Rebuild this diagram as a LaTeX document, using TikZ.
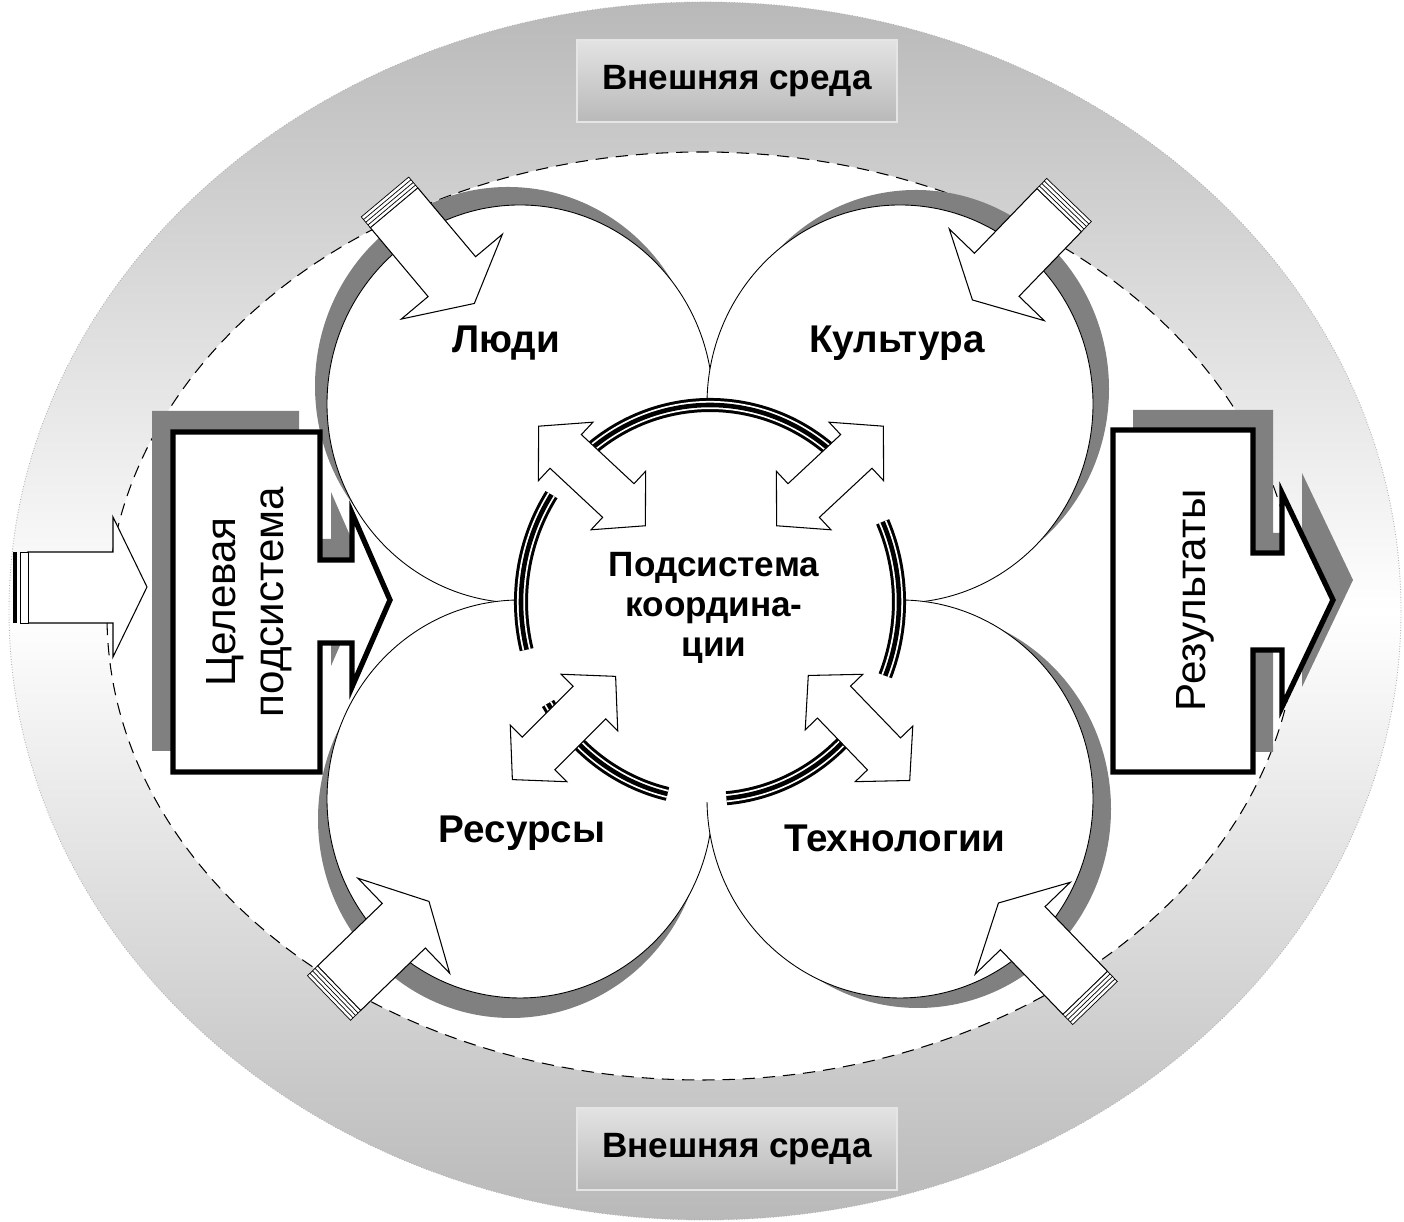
\documentclass[tikz,border=0pt]{standalone}
\usepackage{fontspec}
\setmainfont{Liberation Sans}

\begin{document}
\begin{tikzpicture}[x=0.02cm,y=0.02cm,
  envbox/.style={draw=gray!20,line width=0.8pt,top color=gray!22,bottom color=gray!55,minimum width=6.4cm,minimum height=1.64cm,inner sep=0pt,font=\bfseries\fontsize{20}{22}\selectfont},
  ball/.style={draw,line width=0.5pt,fill=white},
  halo/.style={fill=gray},
  blockarr/.style={draw,line width=0.6pt,fill=white},
  capbar/.style={draw,line width=0.4pt,fill=white},
  sysbox/.style={draw,line width=3pt,fill=white},
  sysshade/.style={fill=gray},
  lbl/.style={font=\bfseries\fontsize{22}{26}\selectfont},
  sidetxt/.style={rotate=90,align=center,font=\fontsize{24}{27}\selectfont}]
\useasboundingbox (0,0) rectangle (1404,1222);
\shade[top color=gray!55,bottom color=gray!55,middle color=white] (705,611) ellipse [x radius=696,y radius=609];
\draw[gray!60,densely dotted,line width=0.5pt] (705,611) ellipse [x radius=696,y radius=609];
\node[envbox] (envtop) at (737,1141) {Внешняя среда};
\node[envbox] (envbot) at (737,73) {Внешняя среда};
\draw[fill=white,line width=0.6pt,dash pattern=on 7pt off 4.5pt] (702,606) ellipse [x radius=595,y radius=464];
\foreach \x/\y/\dx/\dy in {520/818/-12/18,900/818/16/15,520/423/-9/-20,900/423/18/-10}
  \fill[halo,shift={(\dx,\dy)}] (\x,\y) ellipse [x radius=193,y radius=199];
\foreach \x/\y in {520/818,900/818,520/423,900/423}
  \draw[ball] (\x,\y) ellipse [x radius=193,y radius=199];
\fill[white] (710,620) ellipse [x radius=192,y radius=200];
\foreach \s/\e in {48/132,147/194,-22/24,211/257,275/317}{
  \draw[line width=8pt,shift={(710,620)}] (\s:189 and 197) arc[start angle=\s,end angle=\e,x radius=189,y radius=197];
  \draw[white,line width=4.6pt,shift={(710,620)}] (\s:189 and 197) arc[start angle=\s,end angle=\e,x radius=189,y radius=197];
  \draw[line width=2.6pt,shift={(710,620)}] (\s:189 and 197) arc[start angle=\s,end angle=\e,x radius=189,y radius=197];}
\foreach \x/\y/\a in {592/746/137,830/746/43,859/494/-46,564/494/-135}
  \draw[blockarr,shift={(\x,\y)},rotate=\a] (73,0) -- (36,40) -- (36,23) -- (-36,23) -- (-36,40) -- (-73,0)
    -- (-36,-40) -- (-36,-23) -- (36,-23) -- (36,-40) -- cycle;
\node[lbl] (people) at (506,879) {Люди};
\node[lbl] (culture) at (897,879) {Культура};
\node[lbl] (resources) at (522,389) {Ресурсы};
\node[lbl] (techno) at (895,384) {Технологии};
\node[align=center,font=\bfseries\fontsize{20}{23}\selectfont] (coord) at (714,614) {Подсистема\\координа-\\ции};
\fill[sysshade,shift={(-21,21)}] (173,790) -- (320,790) -- (320,662) -- (352,662) -- (352,709) -- (390,622)
  -- (352,535) -- (352,579) -- (320,579) -- (320,450) -- (173,450) -- cycle;
\draw[sysbox] (173,790) -- (320,790) -- (320,662) -- (352,662) -- (352,709) -- (390,622)
  -- (352,535) -- (352,579) -- (320,579) -- (320,450) -- (173,450) -- cycle;
\node[sidetxt] (goal) at (249,620) {Целевая\\подсистема};
\fill[sysshade,shift={(20,20)}] (1113,792) -- (1253,792) -- (1253,669) -- (1282,669) -- (1282,729) -- (1333,622)
  -- (1282,515) -- (1282,572) -- (1253,572) -- (1253,450) -- (1113,450) -- cycle;
\draw[sysbox] (1113,792) -- (1253,792) -- (1253,669) -- (1282,669) -- (1282,729) -- (1333,622)
  -- (1282,515) -- (1282,572) -- (1253,572) -- (1253,450) -- (1113,450) -- cycle;
\node[sidetxt] (results) at (1195,622) {Результаты};
\draw[blockarr] (28,670) -- (113,670) -- (113,705) -- (147,635) -- (113,565) -- (113,599) -- (28,599) -- cycle;
\fill (13,599) rectangle (17,670);
\draw[capbar] (20,599) rectangle (28,670);
\foreach \x/\y/\a in {385/1025/-50,1069/1022/-134,1095/219/134,329/224/44}{
  \draw[blockarr,shift={(\x,\y)},rotate=\a] (14,31) -- (104,31) -- (104,66) -- (139,0) -- (104,-66) -- (104,-31) -- (14,-31) -- cycle;
  \draw[capbar,shift={(\x,\y)},rotate=\a] (0,-31) rectangle (14,31) (3.5,-31) -- (3.5,31) (7,-31) -- (7,31) (10.5,-31) -- (10.5,31);}
\end{tikzpicture}
\end{document}
